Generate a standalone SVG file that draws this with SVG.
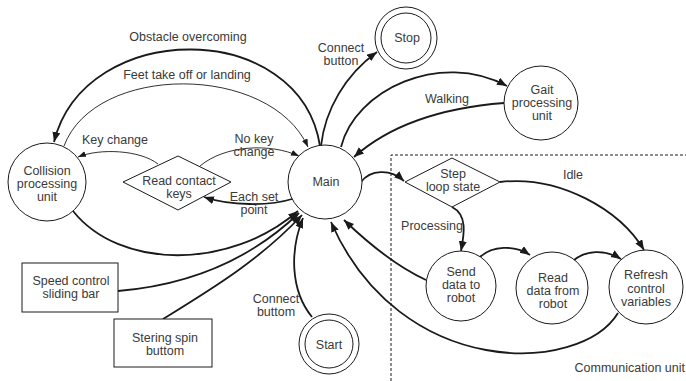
<svg xmlns="http://www.w3.org/2000/svg" width="686" height="381" viewBox="0 0 686 381">
<defs>
<marker id="a" markerUnits="userSpaceOnUse" markerWidth="11" markerHeight="9" refX="10" refY="4" orient="auto"><path d="M0,0 L10,4 L0,8 z" fill="#1a1a1a"/></marker>
<marker id="t" markerUnits="userSpaceOnUse" markerWidth="9" markerHeight="7" refX="8" refY="3" orient="auto"><path d="M0,0 L8,3 L0,6 z" fill="#1a1a1a"/></marker>
<style>
.n{fill:#fff;stroke:#1a1a1a;stroke-width:1}
.k{fill:none;stroke:#1a1a1a;stroke-width:1.8}
.h{fill:none;stroke:#1a1a1a;stroke-width:0.9}
text{font-family:"Liberation Sans",Arial,sans-serif;font-size:12.5px;fill:#3a3a3a;text-anchor:middle}
</style>
</defs>
<rect width="686" height="381" fill="#fff"/>
<path d="M391 381 V155 H686" fill="none" stroke="#1a1a1a" stroke-width="1" stroke-dasharray="3,2"/>
<g id="connectors">
<path class="k" d="M320 146 C300 18, 85 18, 54 142" marker-end="url(#a)"/>
<path class="h" d="M64 146 C95 63, 270 63, 308 147" marker-end="url(#t)"/>
<path class="h" d="M158 164 C140 150, 100 148, 78 157" marker-end="url(#t)"/>
<path class="h" d="M200 166 C225 145, 270 143, 299 156" marker-end="url(#t)"/>
<path class="k" d="M292 199 C270 206, 230 206, 204 197" marker-end="url(#a)"/>
<path class="k" d="M73 211 C120 270, 230 270, 298 211" marker-end="url(#a)"/>
<path class="k" d="M118 291 C190 285, 250 260, 299 213" marker-end="url(#a)"/>
<path class="k" d="M163 319 C210 290, 260 260, 302 215" marker-end="url(#a)"/>
<path class="k" d="M312 317 C290 290, 290 250, 303 218" marker-end="url(#a)"/>
<path class="k" d="M426 280 C400 268, 370 245, 344 220" marker-end="url(#a)"/>
<path class="k" d="M618 313 C580 375, 400 380, 331 222" marker-end="url(#a)"/>
<path class="k" d="M321 146 C325 110, 345 75, 377 52" marker-end="url(#a)"/>
<path class="k" d="M341 147 C355 90, 440 50, 507 86" marker-end="url(#a)"/>
<path class="k" d="M504 103 C440 108, 390 125, 354 157" marker-end="url(#a)"/>
<path class="k" d="M361 182 C370 170, 390 168, 404 181" marker-end="url(#a)"/>
<path class="k" d="M452 207 C468 215, 464 235, 461 251" marker-end="url(#a)"/>
<path class="k" d="M500 182 C560 175, 620 210, 644 250" marker-end="url(#a)"/>
<path class="k" d="M479 258 C492 245, 515 245, 530 255" marker-end="url(#a)"/>
<path class="k" d="M573 261 C585 250, 605 249, 621 259" marker-end="url(#a)"/>
</g>
<g id="labels">
<text x="188" y="41">Obstacle overcoming</text>
<text x="187" y="79">Feet take off or landing</text>
<text x="115" y="144">Key change</text>
<text x="254" y="143">No key</text>
<text x="254" y="156">change</text>
<text x="254" y="201">Each set</text>
<text x="254" y="214">point</text>
<text x="341" y="52">Connect</text>
<text x="341" y="65">button</text>
<text x="447" y="103">Walking</text>
<text x="573" y="179">Idle</text>
<text x="432" y="230">Processing</text>
<text x="276" y="303">Connect</text>
<text x="276" y="316">buttom</text>
<text x="685" y="372" style="text-anchor:end">Communication unit</text>
</g>
<g id="collision"><circle class="n" cx="47" cy="182" r="39"/><text x="47" y="175">Collision</text><text x="47" y="188">processing</text><text x="47" y="201">unit</text></g>
<g id="readkeys"><path class="n" d="M123 182 L178 156 L231 182 L178 210 Z"/><text x="179" y="185">Read contact</text><text x="179" y="198">keys</text></g>
<g id="main"><circle class="n" cx="325" cy="182" r="37"/><text x="326" y="186">Main</text></g>
<g id="stop"><circle class="n" cx="406" cy="38" r="31"/><circle class="n" cx="406" cy="38" r="25"/><text x="407" y="42">Stop</text></g>
<g id="gait"><circle class="n" cx="541" cy="103" r="37"/><text x="542" y="94">Gait</text><text x="542" y="107">processing</text><text x="542" y="120">unit</text></g>
<g id="step"><path class="n" d="M405 182 L452 158 L500 182 L452 207 Z"/><text x="453" y="178">Step</text><text x="453" y="191">loop state</text></g>
<g id="send"><circle class="n" cx="461" cy="286" r="35"/><text x="461" y="276">Send</text><text x="461" y="289">data to</text><text x="461" y="302">robot</text></g>
<g id="readdata"><circle class="n" cx="552" cy="288" r="36"/><text x="553" y="282">Read</text><text x="553" y="295">data from</text><text x="553" y="308">robot</text></g>
<g id="refresh"><circle class="n" cx="646" cy="287" r="37"/><text x="646" y="279">Refresh</text><text x="646" y="293">control</text><text x="646" y="306">variables</text></g>
<g id="start"><circle class="n" cx="329" cy="344" r="30"/><circle class="n" cx="329" cy="344" r="24"/><text x="329" y="349">Start</text></g>
<g id="speed"><rect class="n" x="22" y="263" width="96" height="49"/><text x="71" y="285">Speed control</text><text x="71" y="298">sliding bar</text></g>
<g id="spin"><rect class="n" x="114" y="319" width="98" height="48"/><text x="165" y="342">Stering spin</text><text x="165" y="355">buttom</text></g>
</svg>
